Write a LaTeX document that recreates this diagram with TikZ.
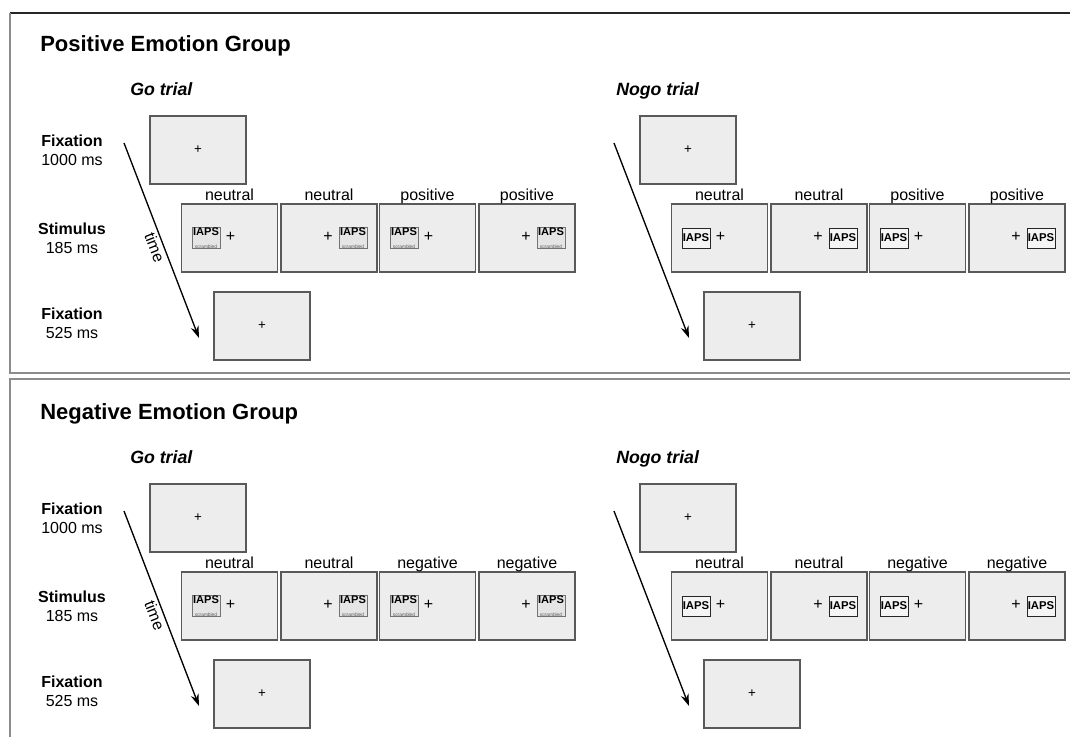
\documentclass[tikz,border=0pt]{standalone}
\usepackage{fontspec}
\setmainfont{Liberation Sans}
\usetikzlibrary{arrows.meta,positioning}

\newcommand{\iapsg}{{\fontsize{8.3}{8}\selectfont\bfseries IAPS}\\[-2.2pt]{\fontsize{3.6}{4}\selectfont\color{black!65}scrambled}}
\newcommand{\iapsn}{{\fontsize{8.5}{8}\selectfont\bfseries IAPS}}

\tikzset{
  panel/.style={draw=black!45, line width=1.1pt},
  screen/.style={draw=black!65, fill=black!7, line width=0.8pt,
    minimum width=72pt, minimum height=51pt, inner sep=0pt,
    font=\fontsize{10}{12}\selectfont},
  title/.style={anchor=base west, inner sep=0pt, font=\fontsize{16.5}{20}\selectfont\bfseries},
  trial/.style={anchor=base west, inner sep=0pt, font=\fontsize{13.3}{16}\selectfont\bfseries\itshape},
  rowlab/.style={align=center, inner sep=0pt, font=\fontsize{12}{14.25}\selectfont},
  cond/.style={inner sep=0pt, text depth=0pt, font=\fontsize{12}{14}\selectfont},
  cross/.style={inner sep=0pt, font=\fontsize{12}{14}\selectfont},
  iaps-g/.style={draw=black!55, fill=black!10, line width=0.6pt, align=center,
    minimum width=21pt, minimum height=15.5pt, inner sep=0.3pt},
  iaps-n/.style={draw=black!85, fill=black!4, line width=0.6pt,
    minimum width=21pt, minimum height=15pt, inner sep=0pt},
  timeline/.style={line width=1pt, -{Stealth[length=9pt,width=6pt]}}
}

\begin{document}
\begin{tikzpicture}[x=0.75pt,y=-0.75pt]
\useasboundingbox (0,0) rectangle (1070,737);

% panel frames
\draw[black!85, line width=1.1pt] (10,13) -- (1070,13);
\draw[panel] (10,13) -- (10,373) -- (1070,373);
\draw[panel] (1070,379) -- (10,379) -- (10,737);

\foreach \dy/\grp/\val/\p in {0/Positive/positive/a,368/Negative/negative/b}{
\begin{scope}[shift={(0,\dy)}]
  \node[title] (title-\p) at (40,52) {\grp\ Emotion Group};
  % row labels
  \node[rowlab] (lab1-\p) at (72,150) {\textbf{Fixation}\\1000 ms};
  \node[rowlab] (lab2-\p) at (72,238) {\textbf{Stimulus}\\185 ms};
  \node[rowlab] (lab3-\p) at (72,323) {\textbf{Fixation}\\525 ms};

  \foreach \tx/\trl/\trx/\t in {0/Go/130/g,490/Nogo/616/n}{
    \node[trial] (trial\t-\p) at (\trx,96) {\trl\ trial};
    \node[screen] (fixA\t-\p) at (198+\tx,150) {+};
    \foreach \i/\cx/\lab/\ix/\px in {1/229.5/neutral/-23.5/1,2/329/neutral/24/-1,
        3/427.5/\val/-23.5/1,4/527/\val/24/-1}{
      \node[screen] (stim\i\t-\p) at (\cx+\tx,238) {};
      \node[cond, above=2.2pt of stim\i\t-\p] (cond\i\t-\p) {\lab};
      \node[iaps-\t] (iaps\i\t-\p) at (\cx+\ix+\tx,238) {\csname iaps\t\endcsname};
      \node[cross] (cross\i\t-\p) at (\cx+\px+\tx,237) {+};
    }
    \node[screen] (fixB\t-\p) at (262+\tx,326) {+};
    \coordinate (t0\t-\p) at (124+\tx,143);
    \coordinate (t1\t-\p) at (199+\tx,338);
    \draw[timeline] (t0\t-\p) -- (t1\t-\p);
  }
  \path (t0g-\p) -- node[pos=0.52, below=2pt, sloped, cross] (time-\p) {time} (t1g-\p);
\end{scope}
}
\end{tikzpicture}
\end{document}
